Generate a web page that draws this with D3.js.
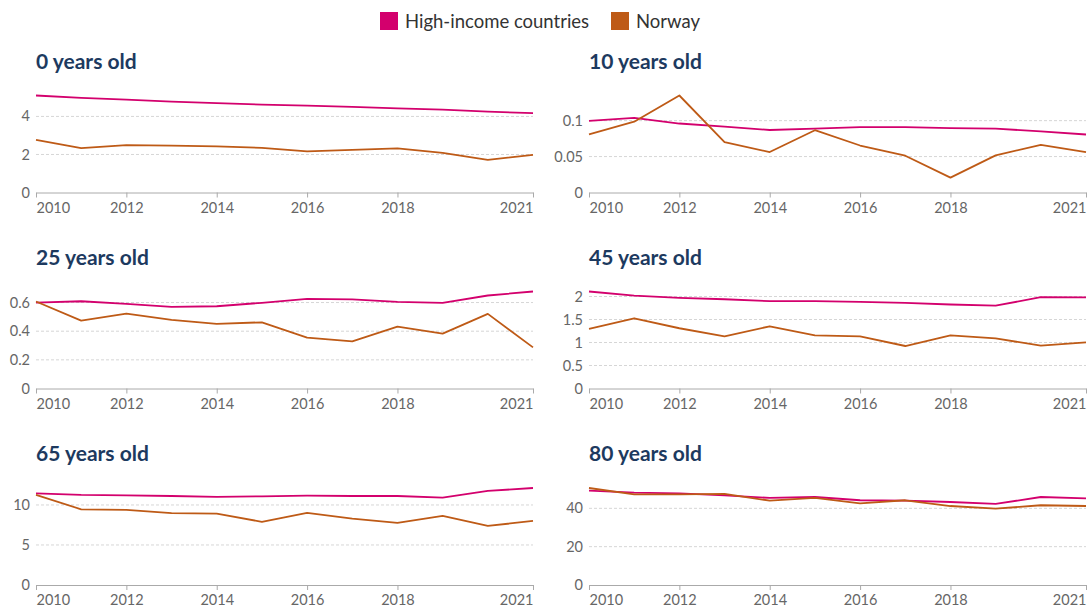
<!DOCTYPE html>
<html>
<head>
<meta charset="utf-8">
<script src="https://cdn.jsdelivr.net/npm/d3@7"></script>
<style>
  html, body { margin: 0; padding: 0; background: #fff; }
  svg { display: block; font-family: Lato, "Open Sans", sans-serif; }
</style>
</head>
<body>
<svg id="chart" width="1089" height="613"></svg>
<script>
// Annual death rate by age, Norway vs. high-income countries
const years = [2010, 2011, 2012, 2013, 2014, 2015, 2016, 2017, 2018, 2019, 2020, 2021];
const xTickYears = [2010, 2012, 2014, 2016, 2018, 2021];
const seriesNames = ["High-income countries", "Norway"];
const seriesColors = ["#d3006d", "#be5a16"];

const panelTitles = ["0 years old", "10 years old", "25 years old", "45 years old", "65 years old", "80 years old"];
const panelYTicks = [
  [0, 2, 4],
  [0, 0.05, 0.1],
  [0, 0.2, 0.4, 0.6],
  [0, 0.5, 1, 1.5, 2],
  [0, 5, 10],
  [0, 20, 40]
];

const highIncome0  = [5.10, 4.98, 4.88, 4.78, 4.70, 4.62, 4.57, 4.50, 4.42, 4.36, 4.25, 4.17];
const norway0      = [2.77, 2.33, 2.49, 2.46, 2.42, 2.35, 2.16, 2.24, 2.32, 2.08, 1.72, 1.98];
const highIncome10 = [0.0996, 0.104, 0.096, 0.0917, 0.087, 0.089, 0.091, 0.091, 0.0895, 0.089, 0.085, 0.0807];
const norway10     = [0.081, 0.0986, 0.135, 0.070, 0.0563, 0.0867, 0.0654, 0.0512, 0.0207, 0.0516, 0.0664, 0.0563];
const highIncome25 = [0.600, 0.609, 0.591, 0.570, 0.574, 0.598, 0.626, 0.622, 0.605, 0.598, 0.649, 0.677];
const norway25     = [0.607, 0.474, 0.523, 0.479, 0.451, 0.462, 0.355, 0.329, 0.432, 0.383, 0.521, 0.287];
const highIncome45 = [2.109, 2.02, 1.97, 1.94, 1.90, 1.90, 1.885, 1.86, 1.826, 1.80, 1.985, 1.98];
const norway45     = [1.295, 1.527, 1.31, 1.134, 1.353, 1.157, 1.134, 0.924, 1.157, 1.09, 0.931, 1.004];
const highIncome65 = [11.46, 11.25, 11.2, 11.12, 11.0, 11.08, 11.16, 11.12, 11.12, 10.92, 11.75, 12.12];
const norway65     = [11.25, 9.46, 9.38, 8.97, 8.93, 7.89, 9.0, 8.3, 7.76, 8.63, 7.38, 8.0];
const highIncome80 = [49.2, 48.2, 47.8, 46.8, 45.4, 45.9, 44.2, 44.0, 43.3, 42.3, 45.9, 45.2];
const norway80     = [50.6, 47.3, 47.3, 47.5, 44.0, 45.5, 42.6, 44.2, 41.2, 39.8, 41.6, 41.2];

const panelSeries = [
  [highIncome0, norway0],
  [highIncome10, norway10],
  [highIncome25, norway25],
  [highIncome45, norway45],
  [highIncome65, norway65],
  [highIncome80, norway80]
];

const svg = d3.select("#chart");

// Layout of the 3x2 grid of small multiples
const colLeft = [36, 589];
const plotWidth = 497;
const rowBase = [192.5, 388.5, 585];
const plotHeight = 97;
const titleOffset = 124; // distance from title baseline to zero line

// Legend
const legend = svg.append("g").attr("class", "legend");
const legendX = [380, 611];
seriesNames.forEach((name, i) => {
  const g = legend.append("g").attr("transform", `translate(${legendX[i]},12)`);
  g.append("rect").attr("width", 18).attr("height", 18).attr("fill", seriesColors[i]);
  g.append("text")
    .attr("x", 25).attr("y", 15.5)
    .attr("font-size", 18.5)
    .attr("fill", "#333")
    .text(name);
});

panelTitles.forEach((title, p) => {
  const col = p % 2, row = Math.floor(p / 2);
  const x0 = colLeft[col];
  const base = rowBase[row];
  const series = panelSeries[p];
  const ymax = d3.max(series.flat());

  const x = d3.scaleLinear().domain([years[0], years[years.length - 1]]).range([x0, x0 + plotWidth]);
  const y = d3.scaleLinear().domain([0, ymax]).range([base, base - plotHeight]);

  const g = svg.append("g");

  g.append("text")
    .attr("x", x0).attr("y", base - titleOffset)
    .attr("font-size", 21).attr("font-weight", 700)
    .attr("fill", "#1d3a5f")
    .text(title);

  // dashed horizontal gridlines
  const ticks = panelYTicks[p];
  g.selectAll(".grid").data(ticks.filter(t => t > 0)).join("line")
    .attr("x1", x0).attr("x2", x0 + plotWidth)
    .attr("y1", d => y(d)).attr("y2", d => y(d))
    .attr("stroke", "#d6d6d6").attr("stroke-width", 1)
    .attr("stroke-dasharray", "3,2");

  // y tick labels
  g.selectAll(".ylab").data(ticks).join("text")
    .attr("x", x0 - 6).attr("y", d => y(d))
    .attr("dy", "0.35em")
    .attr("text-anchor", "end")
    .attr("font-size", 14.5).attr("fill", "#666")
    .text(d => d3.format("~g")(d));

  // x axis
  const xAxis = d3.axisBottom(x).tickValues(xTickYears).tickFormat(d3.format("d")).tickSize(5).tickSizeOuter(0);
  const ax = g.append("g").attr("transform", `translate(0,${base})`).call(xAxis);
  ax.select(".domain").attr("stroke", "#aaa");
  ax.selectAll(".tick line").attr("stroke", "#aaa");
  ax.selectAll(".tick text")
    .attr("font-family", "Lato, sans-serif")
    .attr("font-size", 14.5).attr("fill", "#666")
    .attr("dy", "0.85em")
    .attr("text-anchor", (d, i) => i === 0 ? "start" : (i === xTickYears.length - 1 ? "end" : "middle"))
    .attr("dx", 0);

  // series lines
  const line = d3.line().x((d, i) => x(years[i])).y(d => y(d));
  series.forEach((vals, s) => {
    g.append("path")
      .datum(vals)
      .attr("fill", "none")
      .attr("stroke", seriesColors[s])
      .attr("stroke-width", 1.8)
      .attr("stroke-linejoin", "round")
      .attr("d", line);
  });
});
</script>
</body>
</html>
